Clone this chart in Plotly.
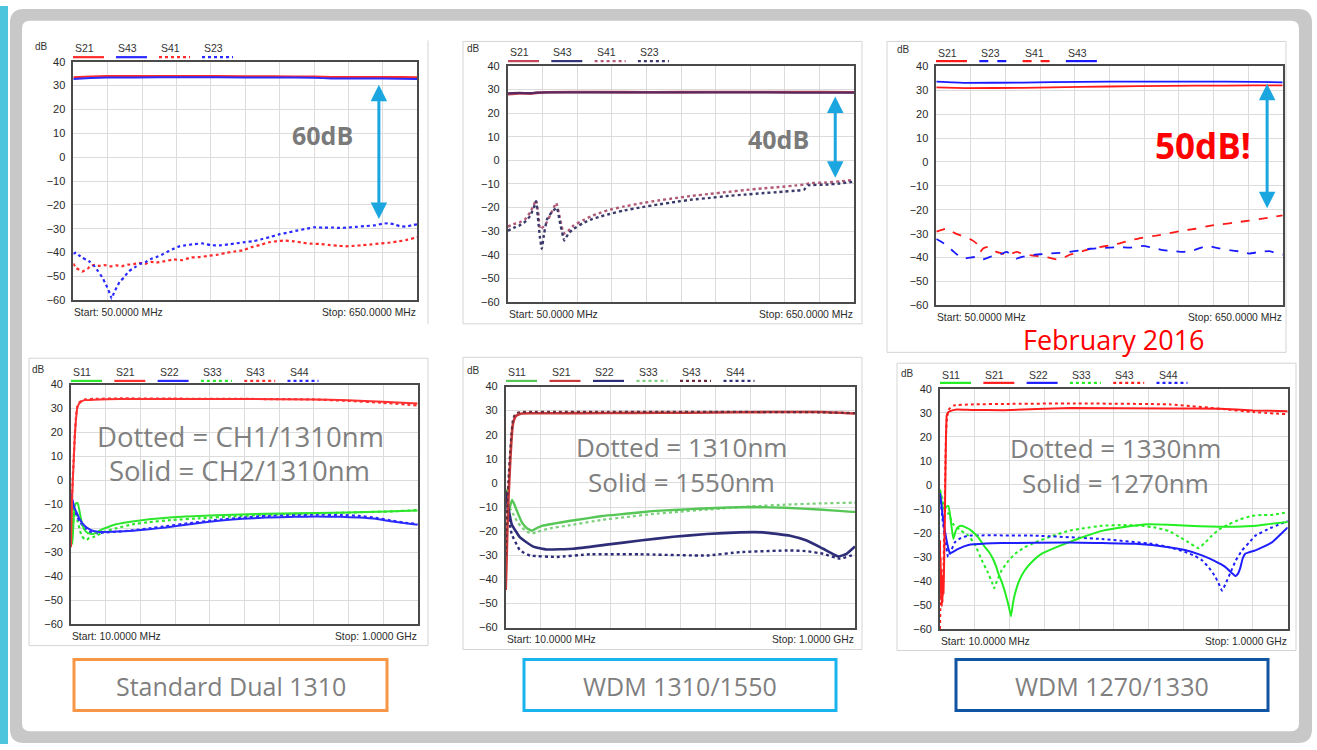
import plotly.graph_objects as go

W, H = 1317, 750

# ======================= DATA =======================
# ---- Panel 1 : Standard Dual 1310 isolation (50-650 MHz) ----
P1_F_THRU = [50, 80, 110, 200, 300, 400, 470, 500, 560, 620, 650]
P1_S21 = [33.5, 33.8, 34.0, 34.0, 34.0, 33.9, 33.8, 33.6, 33.6, 33.6, 33.5]
P1_S43 = [32.8, 33.2, 33.4, 33.5, 33.5, 33.4, 33.3, 33.0, 33.0, 32.9, 32.8]
P1_F_S41 = [50, 55, 60, 65, 70, 75, 80, 88, 95, 105, 115, 125, 135, 145, 155, 165, 175, 185, 195,
            210, 225, 240, 255, 270, 285, 300, 315, 330, 345, 360, 375, 390, 405, 420, 435, 450,
            465, 480, 495, 510, 525, 540, 555, 570, 585, 600, 615, 630, 645, 650]
P1_S41 = [-44.6, -46.5, -47.2, -48.0, -47.5, -46.8, -45.6, -45.2, -45.6, -45.3, -45.8, -45.4, -45.7,
          -45.1, -44.9, -44.3, -44.8, -43.9, -44.2, -43.6, -42.9, -43.2, -42.1, -41.9, -41.4, -41.0,
          -40.2, -39.6, -39.1, -37.8, -36.9, -35.8, -35.2, -35.0, -35.3, -35.9, -36.3, -36.4, -36.8,
          -37.1, -37.4, -37.2, -36.9, -36.6, -36.2, -35.9, -35.4, -34.8, -33.9, -33.6]
P1_F_S23 = [50, 55, 60, 65, 72, 79, 86, 93, 100, 105, 110, 114, 117, 121, 126, 131, 138, 145, 152,
            160, 168, 176, 185, 195, 205, 215, 225, 235, 245, 260, 275, 290, 305, 320, 335, 350,
            365, 380, 395, 410, 425, 440, 455, 470, 485, 500, 515, 530, 545, 560, 575, 590, 600,
            610, 620, 630, 640, 650]
P1_S23 = [-40.5, -40.0, -41.2, -42.0, -43.0, -43.9, -45.5, -47.8, -50.2, -52.5, -55.0, -57.4, -59.3,
          -56.8, -54.5, -52.2, -50.6, -48.3, -47.0, -45.8, -44.6, -44.0, -42.7, -41.9, -40.8, -39.6,
          -38.4, -37.4, -37.0, -36.5, -36.2, -36.9, -37.0, -36.6, -36.1, -35.6, -35.2, -34.3, -33.4,
          -32.3, -31.6, -30.8, -30.1, -29.4, -29.6, -29.5, -29.7, -29.5, -29.2, -28.9, -28.6, -27.9,
          -27.7, -28.2, -29.0, -29.1, -28.6, -28.2]

# ---- Panel 2 : WDM 1310/1550 isolation (50-650 MHz) ----
P2_F_THRU = [50, 70, 90, 100, 120, 200, 300, 400, 500, 600, 650]
P2_S21 = [28.0, 28.3, 28.2, 28.5, 28.8, 28.9, 28.8, 28.9, 28.9, 28.9, 28.8]
P2_S43 = [28.3, 28.5, 28.4, 28.6, 28.7, 28.7, 28.7, 28.7, 28.7, 28.6, 28.6]
P2_F_S41 = [50, 60, 70, 80, 89, 95, 99, 103, 106, 112, 118, 126, 134, 140, 147, 155, 164, 180, 195,
            210, 225, 250, 280, 310, 340, 370, 400, 430, 460, 490, 520, 550, 565, 575, 600, 625, 650]
P2_S41 = [-28.0, -27.0, -26.3, -25.0, -22.0, -19.0, -16.8, -22.5, -29.0, -28.0, -26.0, -22.0, -18.0,
          -24.0, -31.0, -29.8, -27.6, -25.4, -23.6, -22.2, -21.0, -19.6, -18.2, -17.0, -16.0, -15.0,
          -14.2, -13.4, -12.6, -11.9, -11.3, -10.6, -10.2, -9.6, -9.4, -8.9, -8.3]
P2_F_S23 = [50, 60, 70, 80, 89, 95, 99, 103, 106, 109, 113, 118, 126, 135, 141, 148, 155, 164, 180,
            195, 210, 225, 250, 280, 310, 340, 370, 400, 430, 460, 490, 520, 550, 563, 570, 600,
            625, 650]
P2_S23 = [-29.8, -28.6, -27.6, -26.0, -23.5, -20.0, -17.3, -26.0, -33.0, -37.4, -31.0, -25.0, -22.0,
          -20.0, -27.0, -33.9, -31.0, -29.0, -26.6, -25.0, -23.8, -22.8, -21.3, -19.9, -18.7, -17.6,
          -16.6, -15.9, -15.1, -14.5, -13.9, -13.4, -12.8, -12.4, -10.6, -10.3, -9.8, -9.0]

# ---- Panel 3 : WDM 1270/1330 isolation, February 2016 (50-650 MHz) ----
P3_F_THRU = [50, 100, 200, 300, 400, 500, 600, 650]
P3_S21 = [31.2, 30.9, 31.0, 31.4, 31.7, 31.9, 32.0, 32.0]
P3_S43 = [33.6, 33.1, 33.2, 33.5, 33.6, 33.6, 33.5, 33.3]
P3_F_S41 = [50, 58, 68, 76, 85, 97, 108, 114, 120, 126, 131, 137, 146, 154, 163, 172, 180, 189, 200,
            212, 223, 235, 247, 258, 270, 281, 293, 305, 316, 333, 350, 368, 385, 408, 431, 454,
            477, 500, 523, 546, 569, 592, 615, 632, 650]
P3_S41 = [-29.1, -28.5, -27.8, -28.9, -30.1, -31.2, -32.2, -33.0, -34.2, -37.6, -36.2, -35.6, -35.9,
          -37.6, -38.2, -39.0, -38.4, -37.6, -38.5, -39.0, -39.3, -39.7, -40.1, -40.7, -40.2, -38.8,
          -38.1, -37.2, -36.3, -35.6, -34.9, -34.0, -32.8, -31.6, -30.8, -29.8, -28.7, -27.9, -26.7,
          -26.0, -25.3, -24.5, -23.7, -23.0, -22.3]
P3_F_S23 = [50, 58, 68, 80, 90, 97, 108, 120, 131, 143, 154, 163, 172, 180, 189, 200, 212, 230, 247,
            264, 281, 298, 316, 333, 350, 368, 385, 397, 408, 420, 431, 443, 460, 477, 495, 509,
            518, 530, 545, 558, 575, 592, 610, 627, 640, 650]
P3_S23 = [-32.2, -33.3, -34.9, -37.5, -39.5, -40.4, -40.0, -39.7, -40.7, -39.7, -39.0, -38.4, -37.6,
          -38.8, -40.4, -39.6, -39.0, -38.6, -38.3, -38.0, -37.6, -37.0, -36.3, -36.0, -35.8, -35.6,
          -35.8, -35.4, -35.1, -35.6, -36.2, -36.9, -37.2, -37.6, -37.0, -35.8, -35.1, -35.6, -36.4,
          -36.9, -37.4, -38.3, -37.6, -37.3, -38.2, -38.8]

# ---- Panel 4 : Standard Dual 1310 S-parameters (10-1000 MHz) ----
P4_F_S21 = [10, 11, 13, 15, 18, 21, 24, 28, 33, 40, 50, 75, 150, 300, 500, 700, 800, 900, 1000]
P4_S21 = [-27.9, -20, -8, -0.5, 9, 18.7, 25, 30.3, 32, 33, 33.5, 33.7, 34.0, 34.0, 34.0, 33.8, 33.4,
          32.8, 32.1]
P4_S43 = [-25, -18, -7, 1, 10, 19.5, 26, 30.8, 32.4, 33.3, 33.8, 34.0, 34.2, 34.1, 34.0, 33.8, 33.2,
          32.4, 31.3]
P4_F_S11 = [10, 12, 14, 17, 20, 24, 29, 34, 40, 48, 58, 72, 85, 100, 120, 138, 180, 233, 300, 376,
            470, 566, 660, 756, 850, 930, 1000]
P4_S11 = [-7.3, -20, -26.5, -18, -11, -9.5, -9.4, -12.5, -17, -20.5, -22.0, -22.4, -21.5, -20.3,
          -19.2, -18.3, -17.2, -16.2, -15.4, -14.8, -14.3, -13.9, -13.7, -13.5, -13.2, -12.9, -12.5]
P4_F_S33 = [10, 12, 14, 17, 20, 24, 29, 34, 40, 48, 55, 62, 72, 85, 100, 138, 186, 233, 300, 376,
            470, 566, 660, 756, 850, 930, 1000]
P4_S33 = [-8, -18, -24, -16, -12, -13, -17, -20, -23, -24.4, -24.8, -23.9, -23.7, -22.8, -21.7, -20,
          -18.3, -17.4, -16.5, -15.8, -15.0, -14.3, -13.9, -13.6, -13.2, -12.9, -12.4]
P4_F_S22 = [10, 14, 20, 29, 34, 48, 62, 72, 86, 100, 140, 186, 233, 281, 350, 424, 500, 566, 650, 709,
            780, 832, 880, 918, 960, 1000]
P4_S22 = [-5.3, -8, -11.5, -14.2, -16, -18.8, -20.3, -21.0, -21.4, -21.5, -21.3, -21.0, -20.4, -19.6,
          -18.3, -16.9, -16.0, -15.5, -15.2, -15.1, -15.2, -15.5, -16.0, -16.9, -17.8, -18.5]
P4_S44 = [-6, -9, -12.5, -15.5, -17, -19.8, -21.3, -21.8, -22.0, -21.8, -21.4, -20.8, -20.0, -19.1,
          -17.8, -16.5, -15.5, -14.8, -14.4, -14.3, -14.4, -14.8, -15.6, -16.5, -17.6, -18.2]

# ---- Panel 5 : WDM 1310/1550 S-parameters (10-1000 MHz) ----
P5_F_S21 = [10, 12, 14.7, 18, 22.3, 26, 29.8, 34, 39.3, 45, 55, 80, 150, 300, 450, 600, 750, 900, 1000]
P5_S21 = [-44.4, -35, -19.9, -6, 7.3, 17, 23.7, 26.3, 27.8, 28.3, 28.8, 28.9, 28.9, 29.0, 29.1, 29.2,
          29.4, 29.4, 28.8]
P5_S43 = [-30, -20, -8, 2, 12, 20, 25.5, 27.8, 28.8, 29.2, 29.4, 29.5, 29.5, 29.5, 29.5, 29.5, 29.4,
          29.3, 29.0]
P5_F_S11 = [10, 13.7, 18, 22, 27.9, 35, 42, 56, 70, 84.6, 100, 113, 150, 189, 240, 283, 350, 425, 500,
            567, 640, 709, 803, 898, 992, 1000]
P5_S11 = [-4, -2.9, -12, -10, -7, -9, -11.7, -16.4, -18.8, -19.8, -18.6, -17.8, -16.8, -15.8, -14.7,
          -13.7, -12.8, -11.7, -11.1, -10.6, -10.2, -10.0, -10.3, -11.0, -12.0, -12.0]
P5_F_S33 = [10, 14, 20, 28, 35, 45, 56, 70, 85, 100, 130, 189, 283, 350, 425, 500, 567, 640, 709, 803,
            898, 992, 1000]
P5_S33 = [-3, -6, -10, -12, -14, -16.5, -18.5, -20.2, -21.0, -20.3, -19, -17.6, -15.3, -14.2, -12.9,
          -12.0, -11.2, -10.4, -9.7, -9.0, -8.5, -8.2, -8.2]
P5_F_S22 = [10, 27, 50.6, 88, 126, 202, 296, 391, 485, 580, 674, 740, 816, 863, 910, 953, 976, 1000]
P5_S22 = [-3.5, -17.1, -22.6, -26.4, -27.6, -27.3, -25.6, -23.9, -22.3, -21.2, -20.5, -20.5, -21.9,
          -23.9, -27.3, -30.5, -29.4, -26.4]
P5_F_S44 = [10, 27, 50.6, 79, 154.5, 249, 391, 580, 674, 816, 863, 910, 957, 1000]
P5_S44 = [-5, -21.2, -28, -30.1, -30.7, -29.6, -29.6, -30.1, -28.7, -28, -28.3, -29.4, -31.4, -29.6]

# ---- Panel 6 : WDM 1270/1330 S-parameters (10-1000 MHz) ----
P6_F_S21 = [10, 11, 12, 13, 14, 15, 16, 17, 18, 20, 22, 24, 26, 29, 33, 38.5, 57.5, 100, 190, 380,
            665, 807, 902, 1000]
P6_S21 = [-23, -40, -30, -48, -35, -50.5, -42, -49, -38, -45, -30, -12.3, 10, 28.7, 30.2, 30.7, 31.4,
          31.2, 31.1, 32.0, 31.8, 31.7, 31.0, 30.7]
P6_F_S43 = [10, 11, 12, 14, 16, 19, 22, 25, 27, 30, 35, 48, 100, 200, 390, 665, 807, 902, 1000]
P6_S43 = [-60, -52, -45, -40, -48, -39.5, -20, 5, 20.5, 28, 31.4, 33.0, 33.5, 33.7, 33.9, 33.5, 31.7,
          30.3, 29.4]
P6_F_S11 = [10, 17, 24, 28, 34, 40, 48, 55, 62, 72, 85, 100, 120, 138, 150, 160, 170, 176, 185, 195,
            205, 212, 218, 224, 235, 252, 275, 300, 340, 376, 420, 471, 530, 604, 660, 718, 780, 832,
            870, 908, 950, 1000]
P6_S11 = [-2, -9, -10.2, -9, -8.8, -14, -22.5, -19, -17.5, -17, -17.8, -19.1, -22, -25.9, -28, -30.5,
          -34, -36.8, -40, -44.5, -50, -54.6, -49, -45, -40, -35.4, -31.5, -28.6, -26, -23.9, -21.5,
          -19.1, -17.6, -16.4, -16.6, -17, -17.3, -17.4, -17.3, -17.0, -16.2, -15.4]
P6_F_S33 = [10, 24, 34, 48, 70, 91, 110, 129, 145, 158, 164, 172, 186, 205, 224, 250, 281, 330, 376,
            420, 471, 530, 585, 625, 661, 690, 718, 746, 765, 784, 805, 832, 865, 898, 930, 955, 1000]
P6_S33 = [-2, -10, -12, -16.4, -19, -21.1, -25, -31.3, -36, -40.5, -43, -40, -35.4, -31.5, -28.6, -26,
          -23.9, -21.2, -19.1, -18, -17, -16.7, -17, -17.8, -19.1, -21.5, -23.9, -26.3, -24, -21.1,
          -18.5, -16.4, -14.3, -12.9, -12.5, -12.5, -11.3]
P6_F_S22 = [10, 17, 24, 33, 38, 45, 62, 91, 140, 186, 376, 566, 661, 710, 756, 790, 822, 840, 851, 858,
            865, 872, 879, 890, 908, 930, 955, 980, 1000]
P6_S22 = [-3.4, -12, -19.1, -26, -28.4, -28, -26.6, -25, -24.4, -24.2, -23.9, -24.5, -25.9, -27.2,
          -29.3, -31.5, -34.1, -36.5, -37.9, -37, -34.5, -30.5, -28.6, -28, -27.2, -25.8, -23.9, -20.5,
          -17.7]
P6_F_S44 = [10, 17, 24, 33, 40, 52, 70, 91, 281, 471, 613, 660, 708, 735, 756, 776, 794, 805, 813, 822,
            836, 852, 870, 890, 908, 950, 1000]
P6_S44 = [-4, -14, -22, -30, -28, -23.9, -22, -21.1, -21.1, -22.5, -24.5, -25.8, -27.9, -29.5, -31.3,
          -34.5, -38.2, -41.5, -44, -41.5, -36.8, -31.5, -27.2, -24, -21.1, -18, -15]

# Labels
ISO_NAMES_A = ["S21", "S43", "S41", "S23"]
ISO_NAMES_B = ["S21", "S23", "S41", "S43"]
SPAR_NAMES = ["S11", "S21", "S22", "S33", "S43", "S44"]
BOX_LABELS = ["Standard Dual 1310", "WDM 1310/1550", "WDM 1270/1330"]
SPAN_ISO = ("Start: 50.0000 MHz", "Stop: 650.0000 MHz")
SPAN_SPAR = ("Start: 10.0000 MHz", "Stop: 1.0000 GHz")

# ======================= LAYOUT HELPERS =======================
def px(x):
    return x / W


def py(y):
    return 1 - y / H


# plot-area pixel boxes (x0, y0, x1, y1)
PLOT_BOX = {
    1: (73.3, 56.7, 417.3, 299.0),
    2: (507.7, 60.7, 854.3, 301.0),
    3: (936.3, 61.3, 1282.7, 304.3),
    4: (71.0, 384.7, 417.7, 628.3),
    5: (505.7, 386.7, 855.0, 631.7),
    6: (940.0, 389.0, 1287.7, 633.3),
}

fig = go.Figure()
shapes = []
annotations = []
layout_axes = {}

TICKFONT = dict(family="Liberation Sans, Arial, sans-serif", size=11, color="#2a2a2a")
SMALLFONT = dict(family="Liberation Sans, Arial, sans-serif", size=10.3, color="#2a2a2a")

for i, (x0, y0, x1, y1) in PLOT_BOX.items():
    iso = i <= 3
    xa = "xaxis" if i == 1 else f"xaxis{i}"
    ya = "yaxis" if i == 1 else f"yaxis{i}"
    xr = "x" if i == 1 else f"x{i}"
    yr = "y" if i == 1 else f"y{i}"
    layout_axes[xa] = dict(
        domain=[px(x0), px(x1)], anchor=yr,
        range=[50, 650] if iso else [10, 1000],
        tick0=50 if iso else 10, dtick=60 if iso else 99,
        showticklabels=False, ticks="", showgrid=True, gridcolor="#dcdcdc", gridwidth=1.3,
        zeroline=False, showline=True, mirror=True, linecolor="#4a4a4a", linewidth=1.6,
    )
    layout_axes[ya] = dict(
        domain=[py(y1), py(y0)], anchor=xr, range=[-60, 40], tick0=0, dtick=10,
        ticks="", ticklabelstandoff=4, tickfont=TICKFONT,
        showgrid=True, gridcolor="#dcdcdc", gridwidth=1.3, zeroline=False,
        showline=True, mirror=True, linecolor="#4a4a4a", linewidth=1.6,
    )
    span = SPAN_ISO if iso else SPAN_SPAR
    ys = y1 + 12.5
    annotations.append(dict(xref="paper", yref="paper", x=px(x0 - 1), y=py(ys), text=span[0],
                            showarrow=False, xanchor="left", yanchor="middle", font=SMALLFONT))
    annotations.append(dict(xref="paper", yref="paper", x=px(x1 + 1), y=py(ys), text=span[1],
                            showarrow=False, xanchor="right", yanchor="middle", font=SMALLFONT))


def add(i, f, v, color, dash="solid", width=2.0):
    xr = "x" if i == 1 else f"x{i}"
    yr = "y" if i == 1 else f"y{i}"
    fig.add_trace(go.Scatter(x=f, y=v, mode="lines", xaxis=xr, yaxis=yr, showlegend=False,
                             line=dict(color=color, dash=dash, width=width, shape="spline",
                                       smoothing=0.35),
                             hoverinfo="skip"))


# ---- panel 1
R1, B1 = "#ff2a2a", "#2a2aff"
add(1, P1_F_S41, P1_S41, R1, "dot", 2.2)
add(1, P1_F_S23, P1_S23, B1, "dot", 2.2)
add(1, P1_F_THRU, P1_S21, R1, "solid", 2.0)
add(1, P1_F_THRU, P1_S43, B1, "solid", 2.0)
# ---- panel 2
R2, B2, R2d, B2d = "#c4485a", "#35357a", "#b05a78", "#3a3a6a"
add(2, P2_F_S41, P2_S41, R2d, "dot", 2.4)
add(2, P2_F_S23, P2_S23, B2d, "dot", 2.4)
add(2, P2_F_THRU, P2_S21, R2, "solid", 2.6)
add(2, P2_F_THRU, P2_S43, "#5a2a5e", "solid", 2.2)
# ---- panel 3
R3, B3 = "#ff1a1a", "#1a1aff"
add(3, P3_F_S41, P3_S41, R3, "dash", 1.8)
add(3, P3_F_S23, P3_S23, B3, "dash", 1.8)
add(3, P3_F_THRU, P3_S21, R3, "solid", 1.8)
add(3, P3_F_THRU, P3_S43, B3, "solid", 1.8)
# ---- panel 4
G4, R4, B4 = "#2ee62e", "#ff3030", "#2a2aff"
add(4, P4_F_S33, P4_S33, G4, "dot", 2.2)
add(4, P4_F_S22, P4_S44, B4, "dot", 2.2)
add(4, P4_F_S21, P4_S43, R4, "dot", 2.2)
add(4, P4_F_S11, P4_S11, G4, "solid", 2.0)
add(4, P4_F_S22, P4_S22, B4, "solid", 2.0)
add(4, P4_F_S21, P4_S21, R4, "solid", 2.0)
# ---- panel 5
G5, R5, B5, R5d = "#56c656", "#c83a3a", "#2e2e78", "#6a2a3a"
add(5, P5_F_S33, P5_S33, "#7ccf7c", "dot", 2.2)
add(5, P5_F_S44, P5_S44, B5, "dot", 2.4)
add(5, P5_F_S11, P5_S11, G5, "solid", 2.4)
add(5, P5_F_S22, P5_S22, B5, "solid", 2.6)
add(5, P5_F_S21, P5_S21, R5, "solid", 2.6)
add(5, P5_F_S21, P5_S43, R5d, "dot", 2.2)
# ---- panel 6
G6, R6, B6 = "#22ee22", "#ff1e1e", "#1e1eff"
add(6, P6_F_S33, P6_S33, G6, "dot", 2.0)
add(6, P6_F_S44, P6_S44, B6, "dot", 2.0)
add(6, P6_F_S43, P6_S43, R6, "dot", 2.0)
add(6, P6_F_S11, P6_S11, G6, "solid", 2.0)
add(6, P6_F_S22, P6_S22, B6, "solid", 2.0)
add(6, P6_F_S21, P6_S21, R6, "solid", 2.0)

# ======================= LEGENDS =======================
LEGENDS = {
    1: dict(db=(41, 41), x=73, y_lab=43, y_line=52, step=43.0, names=ISO_NAMES_A,
            styles=[(R1, "solid"), (B1, "solid"), (R1, "dot"), (B1, "dot")]),
    2: dict(db=(473, 43), x=508, y_lab=47, y_line=56, step=43.3, names=ISO_NAMES_A,
            styles=[(R2, "solid"), (B2, "solid"), (R2d, "dot"), (B2d, "dot")]),
    3: dict(db=(903, 44), x=936, y_lab=48, y_line=56, step=43.3, names=ISO_NAMES_B,
            styles=[(R3, "solid"), (B3, "dash"), (R3, "dash"), (B3, "solid")]),
    4: dict(db=(38, 369), x=71, y_lab=372, y_line=381, step=43.3, names=SPAR_NAMES,
            styles=[(G4, "solid"), (R4, "solid"), (B4, "solid"), (G4, "dot"), (R4, "dot"), (B4, "dot")]),
    5: dict(db=(473, 370), x=506, y_lab=372, y_line=381, step=43.5, names=SPAR_NAMES,
            styles=[(G5, "solid"), (R5, "solid"), (B5, "solid"), ("#7ccf7c", "dot"), (R5d, "dot"), (B5, "dot")]),
    6: dict(db=(907, 373), x=940, y_lab=375, y_line=383, step=43.3, names=SPAR_NAMES,
            styles=[(G6, "solid"), (R6, "solid"), (B6, "solid"), (G6, "dot"), (R6, "dot"), (B6, "dot")]),
}
for i, lg in LEGENDS.items():
    annotations.append(dict(xref="paper", yref="paper", x=px(lg["db"][0]), y=py(lg["db"][1]), text="dB",
                            showarrow=False, xanchor="center", yanchor="middle",
                            font=dict(family="Liberation Sans, Arial", size=10, color="#333")))
    for k, (name, (col, dsh)) in enumerate(zip(lg["names"], lg["styles"])):
        xs = lg["x"] + k * lg["step"]
        annotations.append(dict(xref="paper", yref="paper", x=px(xs), y=py(lg["y_lab"]), text=name,
                                showarrow=False, xanchor="left", yanchor="middle",
                                font=dict(family="Liberation Sans, Arial", size=10.5, color="#333")))
        shapes.append(dict(type="line", xref="paper", yref="paper", x0=px(xs), x1=px(xs + 31),
                           y0=py(lg["y_line"]), y1=py(lg["y_line"]),
                           line=dict(color=col, width=2.2, dash=dsh)))

# ======================= BACKGROUND / FRAMES =======================
def rrect_path(x0, y0, x1, y1, r):
    pts = [("M", [(x0 + r, y0)]), ("L", [(x1 - r, y0)]), ("Q", [(x1, y0), (x1, y0 + r)]),
           ("L", [(x1, y1 - r)]), ("Q", [(x1, y1), (x1 - r, y1)]), ("L", [(x0 + r, y1)]),
           ("Q", [(x0, y1), (x0, y1 - r)]), ("L", [(x0, y0 + r)]), ("Q", [(x0, y0), (x0 + r, y0)])]
    s = ""
    for cmd, pp in pts:
        s += cmd + " " + " ".join(f"{px(a):.5f},{py(b):.5f}" for a, b in pp) + " "
    return s + "Z"


bg_shapes = [
    dict(type="path", xref="paper", yref="paper", path=rrect_path(10, 3, 1312, 749, 14),
         fillcolor="#c8c8c8", line=dict(width=0), layer="below"),
    dict(type="path", xref="paper", yref="paper", path=rrect_path(22, 15, 1299, 737, 8),
         fillcolor="#ffffff", line=dict(width=0), layer="below"),
    dict(type="rect", xref="paper", yref="paper", x0=0, x1=px(8), y0=0, y1=1,
         fillcolor="#4cc5dd", line=dict(width=0), layer="below"),
]

# thin image frames
FRAMES = [(463, 36, 862, 323), (887, 36, 1286, 352), (29, 358, 428, 650), (463, 357, 862, 654),
          (897, 363, 1296, 655)]
for (a, b, c, d) in FRAMES:
    bg_shapes.append(dict(type="rect", xref="paper", yref="paper", x0=px(a), x1=px(c), y0=py(d), y1=py(b),
                          line=dict(color="#d4d4d4", width=1), fillcolor="rgba(0,0,0,0)", layer="below"))
bg_shapes.append(dict(type="line", xref="paper", yref="paper", x0=px(428), x1=px(428), y0=py(323), y1=py(35),
                      line=dict(color="#d4d4d4", width=1), layer="below"))

# bottom label boxes
BOXES = [((74, 664, 387, 716), "#f79646"), ((524, 664, 836, 716), "#19b4ee"), ((956, 664, 1268, 716), "#1055a3")]
for (a, b, c, d), col in BOXES:
    shapes.append(dict(type="rect", xref="paper", yref="paper", x0=px(a), x1=px(c), y0=py(d), y1=py(b),
                       line=dict(color=col, width=3), fillcolor="#ffffff", layer="below"))
for ((a, b, c, d), col), lab in zip(BOXES, BOX_LABELS):
    annotations.append(dict(xref="paper", yref="paper", x=px((a + c) / 2), y=py((b + d) / 2 + 1), text=lab,
                            showarrow=False, xanchor="center", yanchor="middle",
                            font=dict(family="Open Sans", size=25, color="#7f7f7f")))

# ======================= TEXT ANNOTATIONS =======================
GRAY = "#7a7a7a"
TEXTS = [
    ("60dB", 322, 131, 25, GRAY, True),
    ("40dB", 778, 135, 25, GRAY, True),
    ("50dB!", 1203, 142, 35, "#ff0000", True),
    ("February 2016", 1114, 339, 27, "#ff0000", False),
    ("Dotted = CH1/1310nm", 240, 437, 27.5, "#808080", False),
    ("Solid = CH2/1310nm", 239, 472, 27.5, "#808080", False),
    ("Dotted = 1310nm", 681, 448, 26, "#808080", False),
    ("Solid = 1550nm", 681, 484, 26, "#808080", False),
    ("Dotted = 1330nm", 1115, 449, 26, "#808080", False),
    ("Solid = 1270nm", 1115, 485, 26, "#808080", False),
]
for t, x, y, s, c, b in TEXTS:
    annotations.append(dict(xref="paper", yref="paper", x=px(x), y=py(y),
                            text=f"<b>{t}</b>" if b else t, showarrow=False,
                            xanchor="center", yanchor="middle",
                            font=dict(family="Open Sans", size=s, color=c)))

# double-headed arrows (freq MHz, top dB, bottom dB)
ARROWS = {1: (583, 30.4, -26.6), 2: (617, 27.0, -8.0), 3: (623, 32.7, -20.0)}
for i, (fx, ytop, ybot) in ARROWS.items():
    xr = "x" if i == 1 else f"x{i}"
    yr = "y" if i == 1 else f"y{i}"
    annotations.append(dict(xref=xr, yref=yr, axref=xr, ayref=yr, x=fx, y=ytop, ax=fx, ay=ybot,
                            text="", showarrow=True, arrowhead=2, arrowside="end+start",
                            arrowsize=1.1, arrowwidth=3, arrowcolor="#1ba6e0"))

fig.update_layout(
    width=W, height=H, margin=dict(l=0, r=0, t=0, b=0),
    paper_bgcolor="#ffffff", plot_bgcolor="#ffffff",
    shapes=bg_shapes + shapes, annotations=annotations, showlegend=False,
    **layout_axes,
)
fig.write_html("out.html")
